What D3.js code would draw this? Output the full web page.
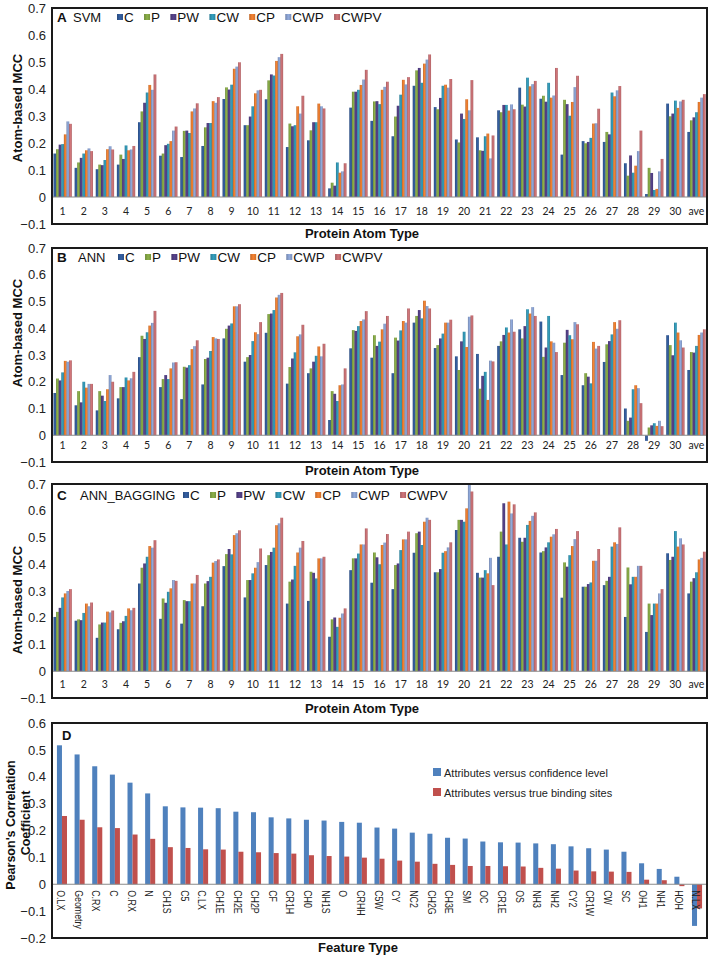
<!DOCTYPE html>
<html>
<head>
<meta charset="utf-8">
<script src="https://cdn.jsdelivr.net/npm/d3@7"></script>
<style>
  html, body { margin: 0; padding: 0; background: #fff; }
  svg { display: block; font-family: "Liberation Sans", Arial, sans-serif; }
</style>
</head>
<body>
<script>
// ---------------- DATA ----------------
const groups = ["1","2","3","4","5","6","7","8","9","10","11","12","13","14","15","16","17","18","19","20","21","22","23","24","25","26","27","28","29","30","ave"];
const seriesNames = ["C","P","PW","CW","CP","CWP","CWPV"];
const seriesColors = ["#2f5590","#7c9c40","#4d3b7c","#2e8ca8","#d9742c","#8197c3","#b9686c"];
const yTicksABC = [-0.1, 0, 0.1, 0.2, 0.3, 0.4, 0.5, 0.6, 0.7];
const yTicksD = [-0.2, -0.1, 0, 0.1, 0.2, 0.3, 0.4, 0.5, 0.6];

// Panel A: SVM
const svmC    = [.161,.108,.103,.120,.277,.153,.148,.189,.363,.266,.362,.185,.210,.032,.331,.282,.225,.412,.333,.213,.221,.321,.405,.364,.157,.207,.204,.125,.011,.346,.241];
const svmP    = [.177,.128,.120,.157,.317,.161,.245,.258,.406,.266,.432,.272,.247,.053,.390,.354,.298,.469,.325,.202,.173,.314,.342,.375,.360,.199,.241,.079,.108,.299,.284];
const svmPW   = [.194,.145,.118,.141,.349,.192,.246,.274,.398,.298,.454,.262,.277,.042,.390,.355,.338,.478,.367,.309,.171,.341,.335,.353,.344,.204,.232,.154,.089,.309,.295];
const svmCW   = [.196,.161,.137,.191,.387,.197,.237,.274,.416,.336,.450,.266,.277,.128,.397,.344,.379,.423,.412,.289,.225,.341,.442,.423,.301,.219,.387,.090,.026,.357,.314];
const svmCP   = [.232,.173,.177,.173,.415,.207,.317,.355,.475,.384,.504,.336,.346,.090,.415,.397,.434,.494,.416,.362,.235,.320,.410,.368,.352,.272,.373,.116,.030,.330,.352];
const svmCWP  = [.280,.180,.188,.176,.397,.246,.328,.349,.483,.395,.518,.309,.336,.095,.435,.408,.417,.509,.405,.321,.143,.343,.418,.376,.407,.273,.395,.170,.095,.354,.368];
const svmCWPV = [.271,.170,.176,.189,.454,.261,.347,.370,.499,.397,.530,.375,.328,.125,.471,.427,.444,.528,.437,.433,.228,.325,.430,.478,.449,.327,.411,.246,.141,.360,.381];

// Panel B: ANN
const annC    = [.158,.112,.093,.138,.292,.180,.135,.190,.362,.275,.383,.193,.232,.057,.325,.290,.232,.421,.326,.295,.304,.334,.396,.425,.225,.187,.274,.100,-.021,.374,.244];
const annP    = [.212,.165,.165,.180,.372,.210,.256,.285,.398,.292,.453,.255,.250,.165,.393,.374,.365,.446,.337,.244,.174,.351,.362,.293,.346,.232,.340,.054,.029,.337,.311];
const annPW   = [.205,.123,.148,.180,.360,.225,.253,.290,.410,.300,.455,.287,.275,.155,.390,.334,.354,.468,.362,.351,.222,.375,.408,.328,.394,.219,.352,.066,.037,.299,.309];
const annCW   = [.235,.200,.128,.216,.385,.210,.262,.315,.418,.352,.468,.310,.297,.128,.408,.350,.392,.437,.380,.387,.237,.403,.471,.446,.374,.194,.377,.172,.045,.421,.334];
const annCP   = [.278,.178,.172,.205,.410,.250,.322,.367,.482,.385,.515,.370,.332,.187,.427,.396,.427,.503,.421,.330,.132,.384,.455,.351,.359,.349,.423,.187,.035,.384,.375];
const annCWP  = [.275,.192,.225,.213,.420,.272,.333,.362,.482,.378,.525,.377,.295,.190,.433,.417,.421,.483,.421,.443,.279,.433,.479,.346,.423,.324,.398,.176,.054,.355,.384];
const annCWPV = [.280,.192,.200,.237,.465,.273,.355,.360,.490,.423,.532,.413,.342,.250,.464,.446,.474,.474,.432,.448,.276,.387,.446,.311,.415,.334,.430,.120,.034,.328,.396];

// Panel C: ANN_BAGGING
const bagC    = [.203,.189,.125,.157,.328,.196,.178,.243,.393,.276,.397,.253,.263,.129,.378,.331,.307,.443,.370,.528,.368,.428,.499,.444,.275,.316,.322,.203,.147,.441,.291];
const bagP    = [.222,.194,.175,.181,.387,.272,.266,.328,.438,.341,.434,.335,.372,.194,.422,.444,.397,.516,.370,.566,.350,.522,.484,.449,.407,.316,.338,.388,.253,.416,.335];
const bagPW   = [.237,.191,.182,.187,.403,.256,.262,.337,.457,.341,.446,.343,.368,.201,.422,.426,.403,.522,.382,.566,.350,.628,.499,.463,.391,.326,.353,.325,.210,.428,.348];
const bagCW   = [.276,.218,.182,.207,.428,.297,.262,.353,.437,.366,.462,.394,.347,.166,.440,.400,.453,.472,.443,.559,.378,.474,.547,.482,.434,.332,.466,.353,.253,.524,.370];
const bagCP   = [.291,.253,.223,.235,.468,.310,.328,.406,.509,.387,.546,.444,.422,.200,.474,.472,.493,.559,.449,.609,.366,.634,.562,.503,.468,.413,.482,.353,.253,.466,.418];
const bagCWP  = [.300,.243,.220,.228,.462,.341,.328,.412,.516,.408,.553,.462,.422,.216,.474,.481,.493,.574,.463,.703,.424,.590,.581,.512,.494,.413,.476,.394,.291,.497,.424];
const bagCWPV = [.307,.257,.227,.237,.490,.338,.360,.418,.527,.459,.574,.487,.428,.235,.534,.513,.522,.566,.482,.672,.322,.624,.594,.532,.524,.457,.538,.394,.307,.474,.447];

// Panel D
const features = ["O.LX","Geometry","C.RX","C","O.RX","N","CH1S","C5","C.LX","CH1E","CH2E","CH2P","CF","CR1H","CH0","NH1S","O","CRHH","C5W","CY","NC2","CH2G","CH3E","SM","OC","CR1E","OS","NH3","NH2","CY2","CR1W","CW","SC","OH1","NH1","HOH","N.LX"];
const confidenceCorr = [.517,.483,.439,.408,.378,.338,.290,.286,.285,.283,.270,.268,.249,.245,.240,.237,.232,.229,.211,.207,.192,.188,.173,.170,.159,.156,.155,.152,.149,.141,.134,.129,.121,.078,.057,.028,-.155];
const bindingCorr    = [.254,.240,.212,.209,.185,.169,.138,.135,.130,.129,.121,.119,.116,.114,.108,.105,.103,.099,.095,.088,.084,.076,.072,.068,.068,.067,.066,.061,.058,.051,.048,.047,.046,.017,.015,-.007,-.09];
const dSeriesNames = ["Attributes versus confidence level","Attributes versus true binding sites"];
const dSeriesColors = ["#4f81bd","#c0504d"];

// ---------------- DRAW ----------------
const W = 712, H = 958;
const svg = d3.select("body").append("svg").attr("width", W).attr("height", H);
const defs = svg.append("defs");
seriesColors.forEach((c, i) => {
  const g = defs.append("linearGradient").attr("id", "g" + i)
    .attr("x1", 0).attr("x2", 1).attr("y1", 0).attr("y2", 0);
  g.append("stop").attr("offset", "0%").attr("stop-color", d3.color(c).darker(0.35));
  g.append("stop").attr("offset", "50%").attr("stop-color", d3.color(c).brighter(0.35));
  g.append("stop").attr("offset", "100%").attr("stop-color", d3.color(c).darker(0.15));
});

const left = 52, right = 707;
const fmt = d => d === 0 ? "0" : d3.format(".1f")(d);

function barPanel(cfg) {
  const y = d3.scaleLinear().domain([-0.1, 0.7]).range([cfg.bottom, cfg.top]);
  const x0 = d3.scaleBand().domain(groups).range([left, right]).paddingInner(0.14).paddingOuter(0.07);
  const x1 = d3.scaleBand().domain(seriesNames).range([0, x0.bandwidth()]);
  const g = svg.append("g");

  // bars
  cfg.data.forEach((arr, si) => {
    g.append("g").selectAll("rect").data(arr).join("rect")
      .attr("x", (d, i) => x0(groups[i]) + x1(seriesNames[si]))
      .attr("width", x1.bandwidth() + 0.2)
      .attr("y", d => Math.min(y(d), y(0)))
      .attr("height", d => Math.abs(y(d) - y(0)))
      .attr("fill", "url(#g" + si + ")");
  });

  // zero line
  g.append("line").attr("x1", left).attr("x2", right).attr("y1", y(0)).attr("y2", y(0))
    .attr("stroke", "#8a8a8a").attr("stroke-width", 1);

  // y axis
  const ya = g.append("g").attr("transform", `translate(${left},0)`)
    .call(d3.axisLeft(y).tickValues(yTicksABC).tickSize(0).tickPadding(6).tickFormat(fmt));
  ya.select(".domain").remove();
  ya.selectAll("text").attr("font-size", 13).attr("fill", "#222").attr("font-family", "Liberation Sans, Arial, sans-serif");

  // x labels
  const xa = g.append("g").attr("transform", `translate(0,${cfg.bottom})`)
    .call(d3.axisBottom(x0).tickSize(0));
  xa.select(".domain").remove();
  xa.selectAll("text").attr("y", cfg.labelY - cfg.bottom).attr("dy", 0)
    .attr("font-size", 10.5).attr("fill", "#222").attr("font-family", "Lato, sans-serif");

  // frame
  g.append("rect").attr("x", left).attr("y", cfg.top).attr("width", right - left).attr("height", cfg.bottom - cfg.top)
    .attr("fill", "none").attr("stroke", "#1a1a1a").attr("stroke-width", 2);

  // titles
  g.append("text").attr("x", 57).attr("y", cfg.legendY).attr("font-size", 13.5).attr("font-weight", "bold")
    .attr("fill", "#111").text(cfg.letter);
  g.append("text").attr("x", cfg.nameX).attr("y", cfg.legendY).attr("font-size", 13)
    .attr("fill", "#111").text(cfg.name);

  // legend
  let lx = cfg.legendX;
  seriesNames.forEach((s, si) => {
    g.append("rect").attr("x", lx).attr("y", cfg.legendY - 8).attr("width", 6).attr("height", 6)
      .attr("fill", "url(#g" + si + ")");
    const t = g.append("text").attr("x", lx + 7).attr("y", cfg.legendY).attr("font-size", 13.5)
      .attr("fill", "#111").text(s);
    lx = lx + 7 + t.node().getComputedTextLength() + 10.3;
  });

  // axis titles
  g.append("text").attr("transform", `translate(17,${cfg.yTitleC}) rotate(-90)`)
    .attr("text-anchor", "middle").attr("dominant-baseline", "central")
    .attr("font-size", 13).attr("font-weight", "bold").attr("fill", "#111").text("Atom-based MCC");
  g.append("text").attr("x", 362).attr("y", cfg.xTitleY).attr("text-anchor", "middle")
    .attr("font-size", 13).attr("font-weight", "bold").attr("fill", "#111").text("Protein Atom Type");
}

barPanel({ top: 8, bottom: 224, labelY: 215, legendY: 22, letter: "A", name: "SVM", nameX: 73, legendX: 117,
  yTitleC: 108, xTitleY: 238, data: [svmC, svmP, svmPW, svmCW, svmCP, svmCWP, svmCWPV] });
barPanel({ top: 248, bottom: 462, labelY: 449, legendY: 262, letter: "B", name: "ANN", nameX: 78, legendX: 118,
  yTitleC: 333, xTitleY: 475, data: [annC, annP, annPW, annCW, annCP, annCWP, annCWPV] });
barPanel({ top: 484, bottom: 698, labelY: 688, legendY: 500, letter: "C", name: "ANN_BAGGING", nameX: 80, legendX: 183,
  yTitleC: 600, xTitleY: 713, data: [bagC, bagP, bagPW, bagCW, bagCP, bagCWP, bagCWPV] });

// Panel D
(function () {
  const top = 723, bottom = 938;
  const y = d3.scaleLinear().domain([-0.2, 0.6]).range([bottom, top]);
  const x0 = d3.scaleBand().domain(features).range([left, right]).paddingInner(0.43).paddingOuter(0.28);
  const x1 = d3.scaleBand().domain([0, 1]).range([0, x0.bandwidth()]);
  const g = svg.append("g");
  [confidenceCorr, bindingCorr].forEach((arr, si) => {
    g.append("g").selectAll("rect").data(arr).join("rect")
      .attr("x", (d, i) => x0(features[i]) + x1(si))
      .attr("width", x1.bandwidth())
      .attr("y", d => Math.min(y(d), y(0)))
      .attr("height", d => Math.abs(y(d) - y(0)))
      .attr("fill", dSeriesColors[si]);
  });
  g.append("line").attr("x1", left).attr("x2", right).attr("y1", y(0)).attr("y2", y(0))
    .attr("stroke", "#8a8a8a").attr("stroke-width", 1);

  const ya = g.append("g").attr("transform", `translate(${left},0)`)
    .call(d3.axisLeft(y).tickValues(yTicksD).tickSize(0).tickPadding(6).tickFormat(fmt));
  ya.select(".domain").remove();
  ya.selectAll("text").attr("font-size", 13).attr("fill", "#222").attr("font-family", "Liberation Sans, Arial, sans-serif");

  // category labels (rotated)
  g.append("g").selectAll("text").data(features).join("text")
    .attr("transform", d => `translate(${x0(d) + x0.bandwidth() / 2 - 1},${y(0) + 6}) rotate(90) scale(0.8,1)`)
    .attr("dominant-baseline", "central")
    .attr("font-size", 11).attr("fill", "#222").text(d => d);

  g.append("rect").attr("x", left).attr("y", top).attr("width", right - left).attr("height", bottom - top)
    .attr("fill", "none").attr("stroke", "#1a1a1a").attr("stroke-width", 2);

  g.append("text").attr("x", 62).attr("y", 740).attr("font-size", 13).attr("font-weight", "bold")
    .attr("fill", "#111").text("D");

  // legend
  dSeriesNames.forEach((s, i) => {
    g.append("rect").attr("x", 433).attr("y", 768 + i * 20).attr("width", 8).attr("height", 8).attr("fill", dSeriesColors[i]);
    g.append("text").attr("x", 444).attr("y", 777 + i * 20).attr("font-size", 11).attr("fill", "#222").text(s);
  });

  // axis titles
  g.append("text").attr("transform", "translate(10.5,825) rotate(-90)")
    .attr("text-anchor", "middle").attr("dominant-baseline", "central")
    .attr("font-size", 12.5).attr("font-weight", "bold").attr("fill", "#111").text("Pearson's Correlation");
  g.append("text").attr("transform", "translate(26,823) rotate(-90)")
    .attr("text-anchor", "middle").attr("dominant-baseline", "central")
    .attr("font-size", 12.5).attr("font-weight", "bold").attr("fill", "#111").text("Coefficient");
  g.append("text").attr("x", 358).attr("y", 952).attr("text-anchor", "middle")
    .attr("font-size", 13).attr("font-weight", "bold").attr("fill", "#111").text("Feature Type");
})();
</script>
</body>
</html>
